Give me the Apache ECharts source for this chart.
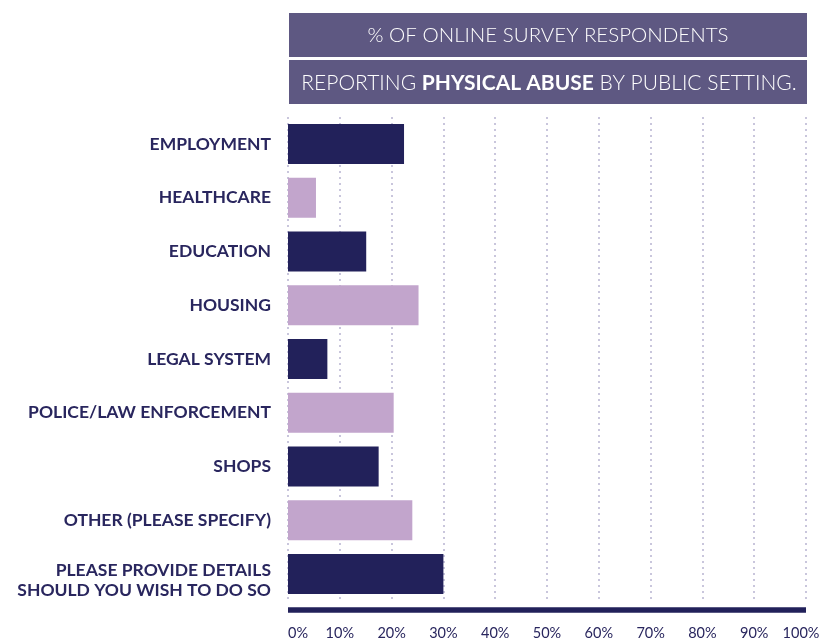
<!DOCTYPE html>
<html>
<head>
<meta charset="utf-8">
<title>Physical abuse by public setting</title>
<script src="https://cdn.jsdelivr.net/npm/echarts@6/dist/echarts.min.js"></script>
<style>
  html, body { margin: 0; padding: 0; background: #ffffff; overflow: hidden; }
  #chart { width: 821px; height: 641px; }
</style>
</head>
<body>
<div id="chart"></div>
<script>
// Public settings, top to bottom
const categories = [
  'EMPLOYMENT',
  'HEALTHCARE',
  'EDUCATION',
  'HOUSING',
  'LEGAL SYSTEM',
  'POLICE/LAW ENFORCEMENT',
  'SHOPS',
  'OTHER (PLEASE SPECIFY)',
  'PLEASE PROVIDE DETAILS\nSHOULD YOU WISH TO DO SO'
];

// % of online survey respondents reporting physical abuse in each setting
const percentValues = [22.4, 5.4, 15.1, 25.2, 7.6, 20.4, 17.5, 24.0, 30.0];

// Value axis ticks
const tickValues = [0, 10, 20, 30, 40, 50, 60, 70, 80, 90, 100];

const titleLine1 = '% OF ONLINE SURVEY RESPONDENTS';
const titleLine2 = ['REPORTING ', 'PHYSICAL ABUSE', ' BY PUBLIC SETTING.'];

const NAVY = '#22215a';
const LILAC = '#c2a5cc';
const LABEL = '#29265e';
const BOX = '#5e5882';
const FONT = 'Lato, "Open Sans", sans-serif';

const labelStyle = {
  color: LABEL,
  fontFamily: FONT,
  fontWeight: 'bold',
  fontSize: 17.5,
  lineHeight: 20
};

const tickStyle = { color: LABEL, fontFamily: FONT, fontSize: 14.5 };
const maxTick = tickValues[tickValues.length - 1];

const chart = echarts.init(document.getElementById('chart'), null, { renderer: 'canvas' });

const option = {
  backgroundColor: '#ffffff',
  animation: false,
  grid: {
    left: 288, right: 15, top: 117, bottom: 40,
    containLabel: false,
    outerBoundsMode: 'none'
  },
  xAxis: {
    type: 'value',
    min: tickValues[0],
    max: maxTick,
    interval: tickValues[1] - tickValues[0],
    offset: 8.5,
    axisLine: { show: true, lineStyle: { color: NAVY, width: 5.5, cap: 'butt' } },
    axisTick: { show: false },
    axisLabel: Object.assign({}, tickStyle, {
      // the last tick label is nudged inwards so it stays on the canvas
      formatter: (v) => v === maxTick ? '{e|' + v + '%}' : v + '%',
      rich: { e: Object.assign({}, tickStyle, { padding: [0, 10, 0, 0] }) },
      margin: 16,
      alignMinLabel: 'left'
    }),
    splitLine: {
      show: true,
      lineStyle: { color: '#c9c6dc', width: 2, type: [2, 4] }
    }
  },
  yAxis: {
    type: 'category',
    inverse: true,
    data: categories,
    axisLine: { show: false },
    axisTick: { show: false },
    splitLine: { show: false },
    axisLabel: Object.assign({}, labelStyle, {
      margin: 17,
      align: 'right',
      // two-line labels sit a little lower than their bar
      formatter: (v) => v.indexOf('\n') < 0
        ? v
        : '{s| }\n' + v.split('\n').map((l) => '{m|' + l + '}').join('\n'),
      rich: {
        s: { fontSize: 1, lineHeight: 12 },
        m: Object.assign({}, labelStyle)
      }
    })
  },
  series: [{
    type: 'bar',
    barWidth: 40,
    data: percentValues.map((v, i) => ({
      value: v,
      itemStyle: { color: i % 2 === 0 ? NAVY : LILAC }
    })),
    label: { show: false }
  }],
  graphic: [
    { type: 'rect', left: 289, top: 13, shape: { width: 518, height: 44 }, style: { fill: BOX } },
    { type: 'rect', left: 289, top: 60, shape: { width: 518, height: 44 }, style: { fill: BOX } },
    {
      type: 'text', x: 548, y: 35,
      style: {
        text: titleLine1,
        fill: '#ffffff',
        font: '300 20.5px ' + FONT,
        align: 'center',
        verticalAlign: 'middle'
      }
    },
    {
      type: 'text', x: 549, y: 83,
      style: {
        text: '{n|' + titleLine2[0] + '}{b|' + titleLine2[1] + '}{n|' + titleLine2[2] + '}',
        align: 'center',
        verticalAlign: 'middle',
        rich: {
          n: { fill: '#ffffff', fontFamily: FONT, fontSize: 21, fontWeight: 300 },
          b: { fill: '#ffffff', fontFamily: FONT, fontSize: 21, fontWeight: 'bold' }
        }
      }
    }
  ]
};

chart.setOption(option);
</script>
</body>
</html>
